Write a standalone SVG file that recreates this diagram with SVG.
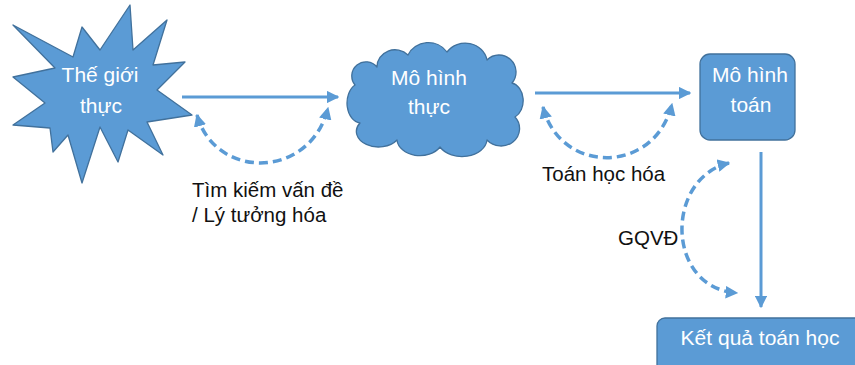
<svg xmlns="http://www.w3.org/2000/svg" width="855" height="365" viewBox="0 0 855 365">
  <style>
    .shape { fill: #5B9BD5; stroke: #41719C; stroke-width: 1.3; stroke-linejoin: round; }
    .node-text { font-family: "Liberation Sans", Arial, sans-serif; font-size: 21px; fill: #ffffff; text-anchor: middle; }
    .label { font-family: "Liberation Sans", Arial, sans-serif; font-size: 20.5px; fill: #111111; }
    .flow { fill: none; stroke: #5B9BD5; stroke-width: 3; }
    .loop { fill: none; stroke: #5B9BD5; stroke-width: 3.5; stroke-dasharray: 9 5; }
  </style>
  <defs>
    <marker id="head" viewBox="0 0 10 10" refX="9" refY="5" markerWidth="4.2" markerHeight="4.2" orient="auto-start-reverse" markerUnits="strokeWidth">
      <path d="M0,0 L10,5 L0,10 Z" fill="#5B9BD5"/>
    </marker>
    <marker id="head-loop" viewBox="0 0 10 10" refX="9" refY="5" markerWidth="3.6" markerHeight="3.6" orient="auto-start-reverse" markerUnits="strokeWidth">
      <path d="M0,0 L10,5 L0,10 Z" fill="#5B9BD5"/>
    </marker>
  </defs>

  <!-- Real world: explosion star -->
  <g id="the-gioi-thuc">
    <polygon class="shape" points="13,25 73,57 82,27 100,50 130,5 133,50 167,20 153,65 185,62 157,90 192,115 147,122 163,155 128,130 118,162 100,127 82,183 68,135 53,152 50,128 13,125 45,103 13,77 55,68"/>
    <text class="node-text" x="100" y="82">Thế giới</text>
    <text class="node-text" x="101" y="113">thực</text>
  </g>

  <!-- Real model: cloud -->
  <g id="mo-hinh-thuc">
    <path class="shape" d="M355,85 A13,13 0 0 1 377,67 A18,17 0 0 1 408,55 A22,20 0 0 1 447,52 A22,20 0 0 1 487,60 A17,17 0 0 1 512,83 A14,18 0 0 1 515,117 A17,16 0 0 1 487,140 A25,18 0 0 1 440,147 A23,17 0 0 1 397,140 A20,14 0 0 1 360,123 A14,20 0 0 1 355,85 Z"/>
    <text class="node-text" x="429" y="85">Mô hình</text>
    <text class="node-text" x="429" y="114">thực</text>
  </g>

  <!-- Mathematical model -->
  <g id="mo-hinh-toan">
    <rect class="shape" x="700" y="54" width="95" height="86" rx="10" ry="10"/>
    <text class="node-text" x="750" y="82">Mô hình</text>
    <text class="node-text" x="751" y="112">toán</text>
  </g>

  <!-- Mathematical result -->
  <g id="ket-qua-toan-hoc">
    <rect class="shape" x="657" y="318" width="215" height="60" rx="8" ry="8"/>
    <text class="node-text" x="760" y="345">Kết quả toán học</text>
  </g>

  <!-- Connectors -->
  <g id="connectors">
    <line class="flow" x1="182" y1="97" x2="338" y2="97" marker-end="url(#head)"/>
    <line class="flow" x1="535" y1="93" x2="690" y2="93" marker-end="url(#head)"/>
    <line class="flow" x1="761" y1="152" x2="761" y2="307" marker-end="url(#head)"/>

    <path class="loop" d="M197,115 C215,180 310,180 328,108" marker-start="url(#head-loop)" marker-end="url(#head-loop)"/>
    <path class="loop" d="M543,107 C560,175 655,175 672,104" marker-start="url(#head-loop)" marker-end="url(#head-loop)"/>
    <path class="loop" d="M729,163 C665,178 665,288 737,293" marker-start="url(#head-loop)" marker-end="url(#head-loop)"/>
  </g>

  <!-- Step labels -->
  <g id="labels">
    <text class="label" x="192" y="197">Tìm kiếm vấn đề</text>
    <text class="label" x="192" y="222">/ Lý tưởng hóa</text>
    <text class="label" x="542" y="181">Toán học hóa</text>
    <text class="label" x="618" y="245">GQVĐ</text>
  </g>
</svg>
